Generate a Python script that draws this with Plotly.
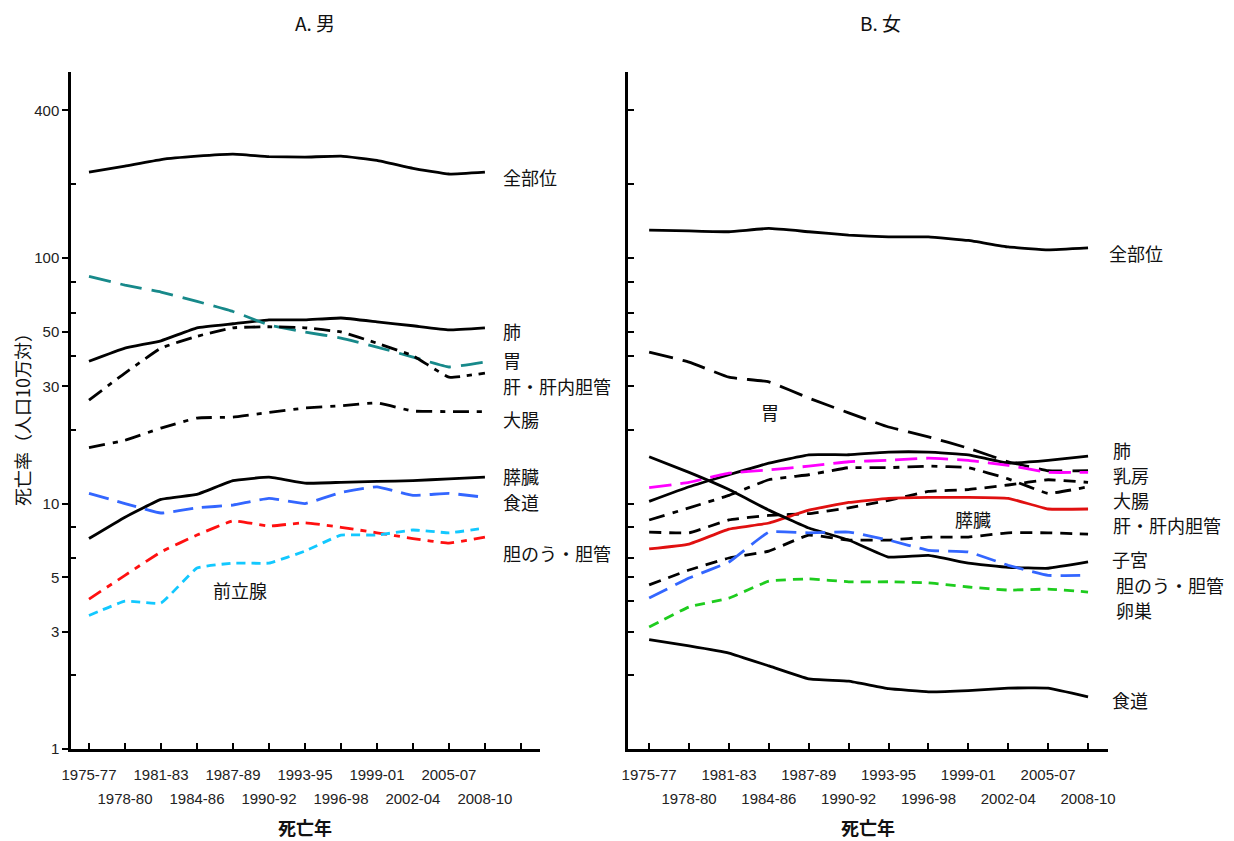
import plotly.graph_objects as go

W, H = 1234, 841

# Death-year periods (3-year averages)
periods = ["1975-77", "1978-80", "1981-83", "1984-86", "1987-89", "1990-92",
           "1993-95", "1996-98", "1999-01", "2002-04", "2005-07", "2008-10"]

# Age-adjusted cancer mortality per 100,000 — males
m_all = [224, 237, 252, 260, 265, 259, 258, 260, 250, 232, 220, 224]
m_lung = [38, 43, 46, 52, 54, 56, 56, 57, 55, 53, 51, 52]
m_stomach = [84.3, 77.6, 72.7, 66.6, 60.6, 53.4, 50.0, 47.2, 43.4, 39.5, 36.0, 37.7]
m_liver = [26.4, 34, 43, 48, 52, 52.5, 52, 50, 45, 40, 32.7, 34]
m_colon = [16.9, 18.1, 20.3, 22.3, 22.5, 23.5, 24.5, 25.0, 25.7, 23.8, 23.7, 23.7]
m_pancreas = [7.2, 8.8, 10.4, 10.9, 12.4, 12.8, 12.1, 12.2, 12.3, 12.4, 12.6, 12.8]
m_esophagus = [11.0, 10.0, 9.15, 9.6, 9.86, 10.5, 10.0, 11.1, 11.7, 10.8, 11.0, 10.6]
m_gallbladder = [4.08, 5.1, 6.35, 7.44, 8.5, 8.1, 8.35, 8.0, 7.6, 7.2, 6.9, 7.3]
m_prostate = [3.5, 4.0, 3.93, 5.46, 5.72, 5.72, 6.4, 7.44, 7.44, 7.8, 7.6, 7.94]

# Females
f_all = [130, 129, 128, 132, 128, 124, 122, 122, 118, 111, 108, 110]
f_stomach = [41.4, 37.7, 32.7, 31.3, 26.9, 23.4, 20.5, 18.7, 16.8, 14.8, 13.6, 13.6]
f_lung = [10.2, 11.7, 13.1, 14.6, 15.8, 15.8, 16.2, 16.2, 15.8, 14.6, 15.0, 15.6]
f_breast = [11.6, 12.2, 13.3, 13.7, 14.2, 14.8, 15.0, 15.3, 15.0, 14.3, 13.4, 13.4]
f_colon = [8.57, 9.6, 10.8, 12.5, 13.1, 14.0, 14.0, 14.2, 14.0, 12.6, 11.0, 11.7]
f_dashed_b = [7.65, 7.6, 8.57, 8.95, 9.1, 9.6, 10.3, 11.2, 11.4, 11.9, 12.5, 12.2]
f_pancreas = [6.53, 6.84, 7.87, 8.33, 9.4, 10.1, 10.5, 10.6, 10.6, 10.5, 9.5, 9.5]
f_liver = [4.66, 5.36, 6.0, 6.4, 7.44, 7.1, 7.1, 7.3, 7.3, 7.6, 7.6, 7.5]
f_uterus = [15.5, 13.4, 11.4, 9.4, 7.95, 7.1, 6.05, 6.15, 5.72, 5.5, 5.45, 5.78]
f_gallbladder = [4.12, 4.97, 5.78, 7.65, 7.6, 7.65, 7.1, 6.45, 6.35, 5.6, 5.1, 5.1]
f_ovary = [3.14, 3.79, 4.12, 4.83, 4.93, 4.8, 4.8, 4.75, 4.57, 4.44, 4.48, 4.36]
f_esophagus = [2.79, 2.63, 2.46, 2.18, 1.93, 1.89, 1.76, 1.71, 1.73, 1.77, 1.77, 1.63]

# Y-axis ticks (log scale)
y_major = [1, 3, 5, 10, 30, 50, 100, 400]
y_minor = [2, 6, 8, 20, 40, 60, 80, 200]
y_right = [1, 2, 3, 4, 5, 6, 8, 10, 20, 30, 40, 50, 60, 80, 100, 200, 400]

BLACK = "#000000"
TEAL = "#17898a"
BLUE = "#3366ff"
RED = "#ff1010"
CYAN = "#12c8ff"
MAGENTA = "#ff00ff"
GREEN = "#1ecc1e"
DARKRED = "#e01010"

idx = list(range(len(periods)))

male_series = [
    (m_all, BLACK, "solid"),
    (m_lung, BLACK, "solid"),
    (m_stomach, TEAL, "22px,10px"),
    (m_liver, BLACK, "16px,7px,5px,7px"),
    (m_colon, BLACK, "16px,8px,5px,8px"),
    (m_pancreas, BLACK, "solid"),
    (m_esophagus, BLUE, "20px,9px"),
    (m_gallbladder, RED, "14px,7px,6px,7px"),
    (m_prostate, CYAN, "9px,6px"),
]
female_series = [
    (f_all, BLACK, "solid"),
    (f_stomach, BLACK, "24px,10px"),
    (f_lung, BLACK, "solid"),
    (f_breast, MAGENTA, "22px,9px"),
    (f_colon, BLACK, "16px,8px,6px,8px"),
    (f_dashed_b, BLACK, "12px,8px"),
    (f_pancreas, DARKRED, "solid"),
    (f_liver, BLACK, "12px,8px"),
    (f_uterus, BLACK, "solid"),
    (f_gallbladder, BLUE, "20px,9px"),
    (f_ovary, GREEN, "10px,7px"),
    (f_esophagus, BLACK, "solid"),
]

fig = go.Figure()
for vals, color, dash in male_series:
    fig.add_trace(go.Scatter(x=idx, y=vals, mode="lines", xaxis="x", yaxis="y",
                             line=dict(color=color, width=2.8, dash=dash, shape="spline", smoothing=0.3),
                             showlegend=False, hoverinfo="skip"))
for vals, color, dash in female_series:
    fig.add_trace(go.Scatter(x=idx, y=vals, mode="lines", xaxis="x2", yaxis="y2",
                             line=dict(color=color, width=2.8, dash=dash, shape="spline", smoothing=0.3),
                             showlegend=False, hoverinfo="skip"))


def px(x):
    return x / W


def py(y):
    return 1 - y / H


TICKFONT = dict(family="Liberation Sans, Arial", size=15, color="#222")
LOGRANGE = [0, 2.758]
YDOM = [py(749), py(72)]

even_text = [p if i % 2 == 0 else "" for i, p in enumerate(periods)]
odd_vals = [i for i in idx if i % 2 == 1]
odd_text = [periods[i] for i in odd_vals]

common_x = dict(showline=True, linecolor=BLACK, linewidth=2.5, ticks="inside",
                ticklen=6, tickwidth=2, tickcolor=BLACK, showgrid=False,
                zeroline=False, tickfont=TICKFONT, ticklabelstandoff=10,
                automargin=False)
overlay_x = dict(side="bottom", tickmode="array", tickvals=odd_vals, ticktext=odd_text,
                 ticks="", showline=False, showgrid=False, zeroline=False,
                 tickfont=TICKFONT, ticklabelstandoff=39, automargin=False)

fig.update_layout(
    width=W, height=H,
    margin=dict(l=0, r=0, t=0, b=0, autoexpand=False),
    paper_bgcolor="white", plot_bgcolor="white",
    xaxis=dict(domain=[px(71), px(540)], range=[-0.5, 12.53], anchor="y",
               tickmode="array", tickvals=list(range(13)), ticktext=even_text + [""],
               **common_x),
    xaxis3=dict(overlaying="x", matches="x", anchor="y", **overlay_x),
    xaxis2=dict(domain=[px(628), px(1108)], range=[-0.53, 11.5], anchor="y2",
                tickmode="array", tickvals=idx, ticktext=even_text,
                **common_x),
    xaxis4=dict(overlaying="x2", matches="x2", anchor="y2", **overlay_x),
    yaxis=dict(type="log", range=LOGRANGE, domain=YDOM, anchor="x",
               showline=True, linecolor=BLACK, linewidth=2.5, showgrid=False,
               zeroline=False, tickmode="array", tickvals=y_major,
               ticktext=[str(v) for v in y_major], ticks="outside", ticklen=6,
               tickwidth=2, tickcolor=BLACK, tickfont=TICKFONT, automargin=False,
               minor=dict(tickmode="array", tickvals=y_minor, ticks="inside",
                          ticklen=5, tickwidth=2, tickcolor=BLACK, showgrid=False)),
    yaxis2=dict(type="log", range=LOGRANGE, domain=YDOM, anchor="x2",
                showline=True, linecolor=BLACK, linewidth=2.5, showgrid=False,
                zeroline=False, tickmode="array", tickvals=y_right,
                showticklabels=False, ticks="inside", ticklen=6,
                tickwidth=2, tickcolor=BLACK, automargin=False),
)

# Empty traces so the overlay axes that carry the second row of period labels are drawn
fig.add_trace(go.Scatter(x=[None], y=[None], xaxis="x3", yaxis="y", showlegend=False, hoverinfo="skip"))
fig.add_trace(go.Scatter(x=[None], y=[None], xaxis="x4", yaxis="y2", showlegend=False, hoverinfo="skip"))

CJK = "Noto Sans CJK JP"


def label(text, x, y, anchor="left", size=18):
    fig.add_annotation(text=text, x=px(x), y=py(y), xref="paper", yref="paper",
                       xanchor=anchor, yanchor="middle", showarrow=False,
                       font=dict(family=CJK, size=size, color="#111"))


# Panel titles
label("A. 男", 315, 22, "center", 19)
label("B. 女", 880, 22, "center", 19)

# Axis titles
fig.add_annotation(text="死亡率（人口10万対）", x=px(22), y=py(415), xref="paper", yref="paper",
                   textangle=-90, showarrow=False, xanchor="center", yanchor="middle",
                   font=dict(family=CJK, size=18, color="#111"))
for xc in (305, 868):
    fig.add_annotation(text="死亡年", x=px(xc), y=py(827), xref="paper", yref="paper",
                       showarrow=False, xanchor="center", yanchor="middle",
                       font=dict(family=CJK, size=18, color="#111", weight="bold"))

# Male site labels
for text, y in [("全部位", 177), ("肺", 331), ("胃", 360), ("肝・肝内胆管", 386),
                ("大腸", 419), ("膵臓", 476), ("食道", 502), ("胆のう・胆管", 553)]:
    label(text, 501, y)
label("前立腺", 240, 590, "center")

# Female site labels
for text, x, y in [("全部位", 1107, 253), ("肺", 1111, 450), ("乳房", 1111, 475),
                   ("大腸", 1111, 500), ("肝・肝内胆管", 1111, 525), ("子宮", 1110, 559),
                   ("胆のう・胆管", 1114, 585), ("卵巣", 1114, 610), ("食道", 1110, 700)]:
    label(text, x, y)
label("胃", 770, 412, "center")
label("膵臓", 973, 519, "center")

fig.write_html("out.html")
